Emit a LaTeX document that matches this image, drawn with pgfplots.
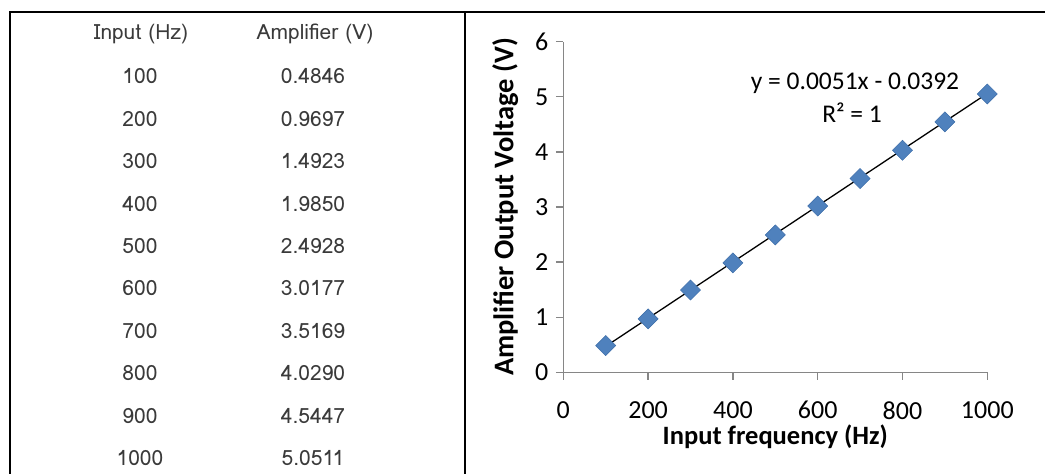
\documentclass[border=0pt]{standalone}
\usepackage{pgfplots}
\pgfplotsset{compat=1.18}
\usepackage{fontspec}
\setmainfont{Carlito}
\newfontfamily\tabfont{Loma}
\definecolor{mk}{HTML}{4F81BD}
\definecolor{mkd}{HTML}{3C6DA8}
\definecolor{ax}{HTML}{868686}
\definecolor{tx}{HTML}{3A3A3A}
\begin{document}
\begin{tikzpicture}
\path[use as bounding box] (0,0) rectangle (1045bp,474bp);
\draw[line width=2bp] (9.5bp,0) -- (9.5bp,462bp) -- (1045bp,462bp);
\draw[line width=2bp] (464.5bp,0) -- (464.5bp,462bp);
\begin{scope}[every node/.style={font=\tabfont\fontsize{21bp}{25bp}\selectfont, text=tx, anchor=center}]
\node at (141bp,440bp) {Input (Hz)};
\node at (315bp,440bp) {Amplifier (V)};
\foreach \a/\b [count=\i from 0] in {100/0.4846,200/0.9697,300/1.4923,400/1.9850,500/2.4928,600/3.0177,700/3.5169,800/4.0290,900/4.5447,1000/5.0511}{
  \node at (140bp,{(474-76.5-42.4*\i)*1bp}) {\a};
  \node at (313bp,{(474-76.5-42.4*\i)*1bp}) {\b};
}
\end{scope}
\begin{axis}[
  at={(563.3bp,101.7bp)}, anchor=south west,
  scale only axis, width=424bp, height=330.6bp,
  xmin=0, xmax=1000, ymin=0, ymax=6,
  axis lines*=left,
  axis line style={ax, line width=1.3bp},
  every tick/.style={ax, line width=1.3bp},
  tick align=outside, major tick length=7.5bp,
  xtick={0,200,...,1000}, ytick={0,1,...,6},
  tick label style={font=\fontsize{26bp}{31bp}\selectfont, text=black},
  xticklabel style={yshift=-18bp},
  yticklabel style={xshift=-4bp},
  /pgf/number format/assume math mode=true,
  /pgf/number format/1000 sep={},
  xlabel={\textbf{Input frequency (Hz)}},
  ylabel={\textbf{Amplifier Output Voltage (V)}},
  xlabel style={font=\fontsize{26.5bp}{31bp}\selectfont, yshift=1bp},
  ylabel style={font=\fontsize{28.5bp}{33bp}\selectfont, yshift=10bp},
  clip=false,
]
\addplot[black, line width=1.3bp] coordinates {(100,0.4708) (1000,5.0608)};
\addplot[only marks, mark=square*, mark size=7.1bp, mark options={rotate=45, fill=mk, draw=mkd, line width=0.5bp}] coordinates {
(100,0.4846) (200,0.9697) (300,1.4923) (400,1.9850) (500,2.4928)
(600,3.0177) (700,3.5169) (800,4.0290) (900,4.5447) (1000,5.0511)};
\node[font=\fontsize{25.5bp}{30bp}\selectfont] at (axis cs:688,5.25) {y = 0.0051x - 0.0392};
\node[font=\fontsize{25.5bp}{30bp}\selectfont] at (axis cs:681,4.72) {R² = 1};
\end{axis}
\end{tikzpicture}
\end{document}
